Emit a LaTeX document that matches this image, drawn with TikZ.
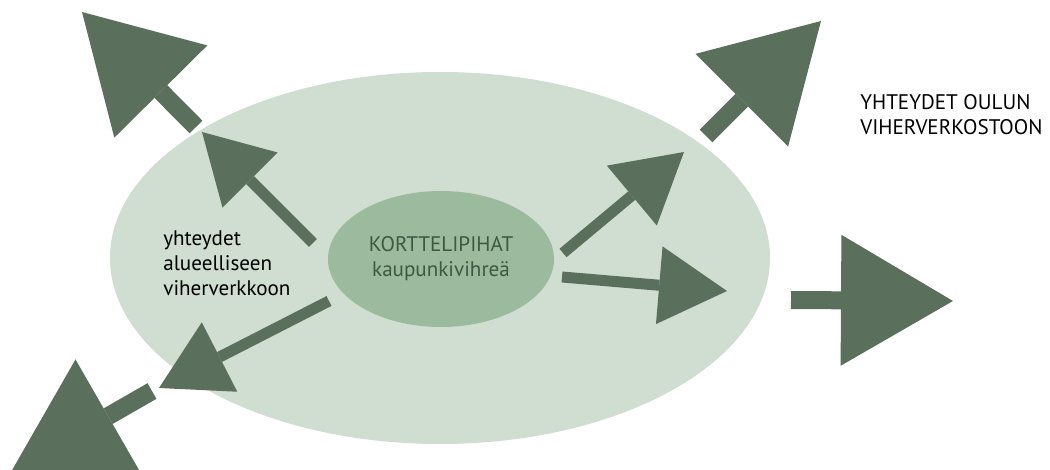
\documentclass[tikz,border=0pt]{standalone}
\usepackage{fontspec}
\setmainfont{PT Sans}
\usetikzlibrary{shapes.geometric,arrows.meta}

\definecolor{areagreen}{HTML}{D0DDD1}
\definecolor{yardgreen}{HTML}{9CBB9E}
\definecolor{arrowgreen}{HTML}{5B705C}
\definecolor{yardtext}{HTML}{3E5942}

\begin{document}
\begin{tikzpicture}[x=0.2mm,y=-0.2mm,
  txt/.style={font=\fontsize{12}{14.2}\selectfont,inner sep=0pt},
  bigarrow/.style={draw=arrowgreen,line width=3.6mm,
    -{Triangle[width=26.2mm,length=22.4mm,line width=0pt]}},
  smallarrow/.style={draw=arrowgreen,line width=2.2mm,
    -{Triangle[width=15.6mm,length=13.6mm,line width=0pt]}}]
  % Frame
  \clip (0,0) rectangle (1050,470);
  % Regional area and city block yards
  \node[ellipse,fill=areagreen,inner sep=0pt,minimum width=132mm,minimum height=74.4mm]
    (alue) at (440,258) {};
  \node[ellipse,fill=yardgreen,inner sep=0pt,minimum width=45.2mm,minimum height=27.2mm,
    txt,text=yardtext,align=center] (piha) at (441,259)
    {KORTTELIPIHAT\\kaupunkivihreä};
  % Labels
  \node[txt,anchor=west,align=left] (aluetxt) at (163,263)
    {yhteydet\\alueelliseen\\viherverkkoon};
  \node[txt,anchor=west,align=left] (oulutxt) at (860,115)
    {YHTEYDET OULUN\\VIHERVERKOSTOON};
  % Arrow ends, inner ring
  \coordinate (nwInTail) at (313,243);  \coordinate (nwInTip) at (202,132);
  \coordinate (neInTail) at (563,253);  \coordinate (neInTip) at (684,152);
  \coordinate (eInTail)  at (562,277);  \coordinate (eInTip)  at (727,291);
  \coordinate (swInTail) at (329,301);  \coordinate (swInTip) at (159,388);
  % Arrow ends, outer ring
  \coordinate (nwTail) at (196,127);  \coordinate (nwTip) at (82,12);
  \coordinate (neTail) at (706,136);  \coordinate (neTip) at (821,21);
  \coordinate (eTail)  at (791,300);  \coordinate (eTip)  at (953,301);
  \coordinate (swTail) at (152,391);  \coordinate (swTip) at (11,472);
  % Arrows
  \draw[smallarrow] (nwInTail) -- (nwInTip);
  \draw[smallarrow] (neInTail) -- (neInTip);
  \draw[smallarrow] (eInTail) -- (eInTip);
  \draw[smallarrow] (swInTail) -- (swInTip);
  \draw[bigarrow] (nwTail) -- (nwTip);
  \draw[bigarrow] (neTail) -- (neTip);
  \draw[bigarrow] (eTail) -- (eTip);
  \draw[bigarrow] (swTail) -- (swTip);
\end{tikzpicture}
\end{document}
